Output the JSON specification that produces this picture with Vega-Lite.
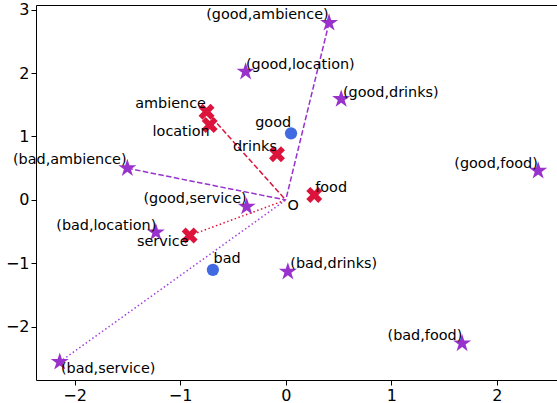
{
  "$schema": "https://vega.github.io/schema/vega-lite/v6.json",
  "width": 524,
  "height": 375,
  "autosize": {"type": "none"},
  "padding": {"left": 36, "top": 5, "right": 0, "bottom": 23},
  "background": "white",
  "config": {
    "view": {"stroke": "black", "strokeWidth": 1},
    "axis": {
      "domain": false,
      "grid": false,
      "labelFont": "DejaVu Sans",
      "labelFontSize": 16,
      "labelColor": "black",
      "tickColor": "black",
      "tickSize": 5,
      "tickWidth": 1,
      "labelPadding": 2,
      "format": "d",
      "title": null
    }
  },
  "resolve": {"scale": {"color": "independent", "size": "independent", "shape": "independent", "strokeDash": "independent"}},
  "datasets": {
    "lines": [
      {"x": 0.41, "y": 2.79, "style": "purple-dashed"},
      {"x": -1.5, "y": 0.5, "style": "purple-dashed"},
      {"x": -0.75, "y": 1.39, "style": "red-dashed"},
      {"x": -0.91, "y": -0.56, "style": "red-dotted"},
      {"x": -2.14, "y": -2.55, "style": "purple-dotted"}
    ],
    "points": [
      {"name": "(good,ambience)", "x": 0.41, "y": 2.79, "type": "pair"},
      {"name": "(good,location)", "x": -0.38, "y": 2.02, "type": "pair"},
      {"name": "(good,drinks)", "x": 0.525, "y": 1.59, "type": "pair"},
      {"name": "(good,food)", "x": 2.39, "y": 0.46, "type": "pair"},
      {"name": "(bad,ambience)", "x": -1.5, "y": 0.5, "type": "pair"},
      {"name": "(good,service)", "x": -0.37, "y": -0.105, "type": "pair"},
      {"name": "(bad,location)", "x": -1.23, "y": -0.51, "type": "pair"},
      {"name": "(bad,drinks)", "x": 0.02, "y": -1.13, "type": "pair"},
      {"name": "(bad,food)", "x": 1.67, "y": -2.26, "type": "pair"},
      {"name": "(bad,service)", "x": -2.14, "y": -2.55, "type": "pair"},
      {"name": "ambience", "x": -0.75, "y": 1.39, "type": "aspect"},
      {"name": "location", "x": -0.72, "y": 1.18, "type": "aspect"},
      {"name": "drinks", "x": -0.083, "y": 0.72, "type": "aspect"},
      {"name": "food", "x": 0.27, "y": 0.08, "type": "aspect"},
      {"name": "service", "x": -0.91, "y": -0.56, "type": "aspect"},
      {"name": "good", "x": 0.05, "y": 1.05, "type": "sentiment"},
      {"name": "bad", "x": -0.69, "y": -1.1, "type": "sentiment"}
    ],
    "labels": [
      {"text": "(good,ambience)", "x": -0.753, "y": 2.85},
      {"text": "(good,location)", "x": -0.377, "y": 2.058},
      {"text": "(good,drinks)", "x": 0.542, "y": 1.627},
      {"text": "(good,food)", "x": 1.596, "y": 0.499},
      {"text": "(bad,ambience)", "x": -2.583, "y": 0.562},
      {"text": "(good,service)", "x": -1.347, "y": -0.052},
      {"text": "(bad,location)", "x": -2.173, "y": -0.472},
      {"text": "(bad,drinks)", "x": 0.043, "y": -1.076},
      {"text": "(bad,food)", "x": 0.964, "y": -2.205},
      {"text": "(bad,service)", "x": -2.129, "y": -2.729},
      {"text": "ambience", "x": -1.425, "y": 1.444},
      {"text": "location", "x": -1.261, "y": 1.013},
      {"text": "drinks", "x": -0.5, "y": 0.772},
      {"text": "food", "x": 0.279, "y": 0.131},
      {"text": "service", "x": -1.409, "y": -0.717},
      {"text": "good", "x": -0.289, "y": 1.145},
      {"text": "bad", "x": -0.684, "y": -0.997},
      {"text": "O", "x": 0.017, "y": -0.157}
    ]
  },
  "layer": [
    {
      "data": {"name": "lines"},
      "mark": {"type": "rule", "strokeWidth": 1.5},
      "encoding": {
        "x": {"field": "x", "type": "quantitative", "scale": {"domain": [-2.365, 2.597], "nice": false, "zero": false}, "axis": {"values": [-2, -1, 0, 1, 2]}},
        "y": {"field": "y", "type": "quantitative", "scale": {"domain": [-2.835, 3.071], "nice": false, "zero": false}, "axis": {"values": [-2, -1, 0, 1, 2, 3]}},
        "x2": {"datum": 0},
        "y2": {"datum": 0},
        "color": {"field": "style", "type": "nominal", "legend": null,
          "scale": {"domain": ["purple-dashed", "red-dashed", "red-dotted", "purple-dotted"], "range": ["#9932CC", "#DC143C", "#DC143C", "#A040E0"]}},
        "strokeDash": {"field": "style", "type": "nominal", "legend": null,
          "scale": {"domain": ["purple-dashed", "red-dashed", "red-dotted", "purple-dotted"], "range": [[5.5, 2.4], [5.5, 2.4], [1.5, 2.5], [1.5, 2.5]]}}
      }
    },
    {
      "data": {"name": "points"},
      "mark": {"type": "point", "filled": true, "opacity": 1, "strokeWidth": 0},
      "encoding": {
        "x": {"field": "x", "type": "quantitative"},
        "y": {"field": "y", "type": "quantitative"},
        "shape": {"field": "type", "type": "nominal", "legend": null,
          "scale": {"domain": ["pair", "aspect", "sentiment"], "range": [
            "M0,-1L0.225,-0.309L0.951,-0.309L0.363,0.118L0.588,0.809L0,0.382L-0.588,0.809L-0.363,0.118L-0.951,-0.309L-0.225,-0.309Z",
            "M-1,-0.5L-0.5,-1L0,-0.5L0.5,-1L1,-0.5L0.5,0L1,0.5L0.5,1L0,0.5L-0.5,1L-1,0.5L-0.5,0Z",
            "circle"]}},
        "color": {"field": "type", "type": "nominal", "legend": null,
          "scale": {"domain": ["pair", "aspect", "sentiment"], "range": ["#9932CC", "#DC143C", "#4169E1"]}},
        "size": {"field": "type", "type": "nominal", "legend": null,
          "scale": {"domain": ["pair", "aspect", "sentiment"], "range": [360, 150, 100]}}
      }
    },
    {
      "data": {"name": "labels"},
      "mark": {"type": "text", "font": "DejaVu Sans", "fontSize": 14.4, "color": "black", "align": "left", "baseline": "alphabetic"},
      "encoding": {
        "x": {"field": "x", "type": "quantitative"},
        "y": {"field": "y", "type": "quantitative"},
        "text": {"field": "text"}
      }
    }
  ]
}
